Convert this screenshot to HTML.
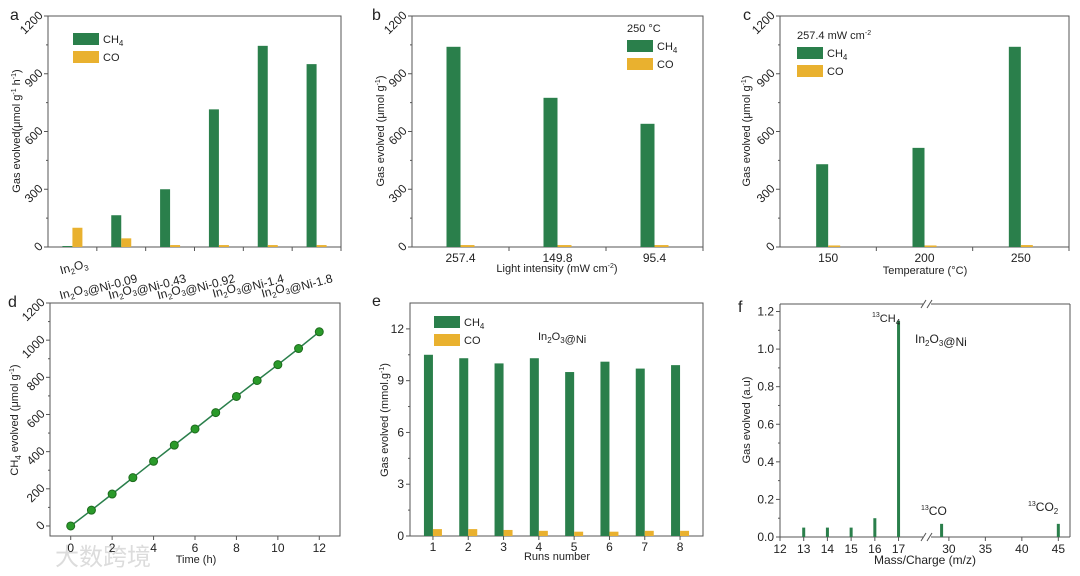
<!DOCTYPE html>
<html><head><meta charset="utf-8">
<style>
html,body{margin:0;padding:0;background:#fff;}
svg{display:block;font-family:"Liberation Sans",Arial,sans-serif;}
</style></head>
<body>
<svg id="fig" width="1080" height="576" viewBox="0 0 1080 576" xmlns="http://www.w3.org/2000/svg">
<text x="55" y="565" font-family="'Liberation Sans','Noto Sans CJK SC',sans-serif" font-size="24" fill="#dcdcdc">大数跨境</text>
</svg>
<script>
// ---- data ----
const catsA = ["In2O3","In2O3@Ni-0.09","In2O3@Ni-0.43","In2O3@Ni-0.92","In2O3@Ni-1.4","In2O3@Ni-1.8"];
const ch4A = [5,165,300,715,1045,950];
const coA = [100,45,10,10,10,10];
const catsB = ["257.4","149.8","95.4"];
const ch4B = [1040,775,640];
const coB = [10,10,10];
const catsC = ["150","200","250"];
const ch4C = [430,515,1040];
const coC = [8,8,10];
const timeD = [0,1,2,3,4,5,6,7,8,9,10,11,12];
const ch4D = [0,85,172,260,348,435,522,610,697,783,868,955,1045];
const runsE = [1,2,3,4,5,6,7,8];
const ch4E = [10.5,10.3,10.0,10.3,9.5,10.1,9.7,9.9];
const coE = [0.4,0.4,0.35,0.3,0.25,0.25,0.3,0.3];
const massF = [13,14,15,16,17,29,45];
const sigF = [0.05,0.05,0.05,0.1,1.15,0.07,0.07];
const ticks1200 = [0,300,600,900,1200];
const ticksD = [0,200,400,600,800,1000,1200];
const ticksDx = [0,2,4,6,8,10,12];
const ticksE = [0,3,6,9,12];
const ticksF = [0,0.2,0.4,0.6,0.8,1.0,1.2];
const ticksFx1 = [12,13,14,15,16,17];
const ticksFx2 = [30,35,40,45];

const G="#2a7f4b", O="#e9b12f", AX="#555", TX="#222";
const svg=document.getElementById('fig');
const NS="http://www.w3.org/2000/svg";
function mk(tag,at,parent){const e=document.createElementNS(NS,tag);for(const k in at)e.setAttribute(k,at[k]);(parent||svg).appendChild(e);return e;}
function txt(x,y,s,opt,parent){const e=mk('text',Object.assign({x:x,y:y,'font-size':11,fill:TX},opt||{}),parent);e.innerHTML=s;return e;}
function frame(L,T,R,B,name){const r=mk('rect',{x:L,y:T,width:R-L,height:B-T,fill:'none',stroke:AX,'stroke-width':1});}
function sub(s){return s.replace(/In2O3/g,'In<tspan font-size="8" dy="3">2</tspan><tspan dy="-3">O</tspan><tspan font-size="8" dy="3">3</tspan><tspan dy="-3"></tspan>');}
const CH4='CH<tspan font-size="8" dy="3">4</tspan>';

function yAxis(L,T,B,min,max,ticks,fmt,rot,name){
  const y=v=>B-(v-min)/(max-min)*(B-T);
  ticks.forEach((v,i)=>{
    const l=mk('line',{x1:L-4,x2:L,y1:y(v),y2:y(v),stroke:AX});
    
    if(i<ticks.length-1){const m=(v+ticks[i+1])/2;mk('line',{x1:L-2,x2:L,y1:y(m),y2:y(m),stroke:AX});}
    const t=rot?txt(L-6,y(v)+4,fmt(v),{'text-anchor':'end','font-size':12,transform:`rotate(-45 ${L-10} ${y(v)})`}):txt(L-6,y(v)+4,fmt(v),{'text-anchor':'end','font-size':12});
    
  });
  return y;
}
function ytitle(x,cy,s,name){const t=txt(x,cy,s,{'text-anchor':'middle',transform:`rotate(-90 ${x} ${cy})`});}
function panelLabel(x,y,s){const t=txt(x,y,s,{'font-size':16});}
function legend(x,y,name,hdr){
  if(hdr){const h=txt(x,y-8,hdr,{});}
  const a=mk('rect',{x:x,y:y,width:26,height:12,fill:G});
  const b=mk('rect',{x:x,y:y+18,width:26,height:12,fill:O});
  const c=txt(x+30,y+10,CH4);
  const d=txt(x+30,y+28,'CO');
}
function barPanel(L,T,R,B,cats,g,o,bw,name,ymax,rotX){
  frame(L,T,R,B,name);
  const y=yAxis(L,T,B,0,ymax,ticks1200,v=>v,true,name);
  const step=(R-L)/cats.length;
  cats.forEach((c,i)=>{
    const cx=L+step*(i+0.5);
    mk('line',{x1:L+step*(i+1),x2:L+step*(i+1),y1:B,y2:B+4,stroke:AX});
    const r1=mk('rect',{x:cx-bw,y:y(g[i]),width:bw,height:B-y(g[i]),fill:G});
    
    const r2=mk('rect',{x:cx,y:y(o[i]),width:bw,height:B-y(o[i]),fill:O});
    
    let lab;
    if(rotX){const ax=cx+16, ay=B+(i===0?20:32);lab=txt(ax,ay,sub(c),{'text-anchor':'end','font-size':12,transform:`rotate(-15 ${ax} ${ay})`});}
    else lab=txt(cx,B+15,c,{'text-anchor':'middle','font-size':12});
    
  });
}
// a
barPanel(48,16,341,247,catsA,ch4A,coA,10,'panel-a',1200,true);
panelLabel(10,20,'a');ytitle(20,131,'Gas evolved(μmol g<tspan font-size="7" dy="-4">-1</tspan><tspan dy="4"> h</tspan><tspan font-size="7" dy="-4">-1</tspan><tspan dy="4">)</tspan>','panel-a');
legend(73,33,'panel-a');
// b
barPanel(412,16,703,247,catsB,ch4B,coB,14,'panel-b',1200,false);
panelLabel(372,20,'b');ytitle(384,131,'Gas evolved (μmol g<tspan font-size="7" dy="-4">-1</tspan><tspan dy="4">)</tspan>','panel-b');
legend(627,40,'panel-b','250 °C');
{const t=txt(557,272,'Light intensity (mW cm<tspan font-size="7" dy="-4">-2</tspan><tspan dy="4">)</tspan>',{'text-anchor':'middle'});}
// c
barPanel(780,16,1069,247,catsC,ch4C,coC,12,'panel-c',1200,false);
panelLabel(743,20,'c');ytitle(750,131,'Gas evolved (μmol g<tspan font-size="7" dy="-4">-1</tspan><tspan dy="4">)</tspan>','panel-c');
legend(797,47,'panel-c','257.4 mW cm<tspan font-size="7" dy="-4">-2</tspan>');
{const t=txt(925,274,'Temperature (°C)',{'text-anchor':'middle'});}
// d
{
  const L=50,T=303,R=340,B=536;frame(L,T,R,B,'panel-d');
  const y=yAxis(L,T,B,-54,1200,ticksD,v=>v,true,'panel-d');
  const x=v=>L+(v+1)/14*(R-L);
  ticksDx.forEach(v=>{mk('line',{x1:x(v),x2:x(v),y1:B,y2:B+4,stroke:AX});const t=txt(x(v),B+16,v,{'text-anchor':'middle','font-size':12});});
  const p=mk('polyline',{points:timeD.map((t,i)=>x(t)+','+y(ch4D[i])).join(' '),fill:'none',stroke:G,'stroke-width':1.5});
  
  timeD.forEach((t,i)=>{const c=mk('circle',{cx:x(t),cy:y(ch4D[i]),r:4,fill:'#2a9a2a',stroke:'#1d6b1d'});});
  panelLabel(8,307,'d');ytitle(18,420,CH4+'<tspan dy="-3"> evolved (μmol g</tspan><tspan font-size="7" dy="-4">-1</tspan><tspan dy="4">)</tspan>','panel-d');
  const t=txt(196,563,'Time (h)',{'text-anchor':'middle'});
}
// e
{
  const L=410,T=303,R=703,B=536;frame(L,T,R,B,'panel-e');
  const y=yAxis(L,T,B,0,13.5,ticksE,v=>v,false,'panel-e');
  const x=v=>L+(v-0.35)/8.3*(R-L);
  runsE.forEach((r,i)=>{
    mk('line',{x1:x(r),x2:x(r),y1:B,y2:B+4,stroke:AX});
    const a=mk('rect',{x:x(r)-9,y:y(ch4E[i]),width:9,height:B-y(ch4E[i]),fill:G});
    const b=mk('rect',{x:x(r),y:y(coE[i]),width:9,height:B-y(coE[i]),fill:O});
    const t=txt(x(r),B+15,r,{'text-anchor':'middle','font-size':12});
  });
  panelLabel(372,306,'e');ytitle(388,420,'Gas evolved (mmol.g<tspan font-size="7" dy="-4">-1</tspan><tspan dy="4">)</tspan>','panel-e');
  legend(434,316,'panel-e');
  const n=txt(538,340,sub('In2O3@Ni'));
  const t=txt(557,560,'Runs number',{'text-anchor':'middle'});
}
// f
{
  const L=780,T=304,R=1070,B=537,BK=927;
  mk('line',{x1:L,x2:R,y1:B,y2:B,stroke:AX});mk('line',{x1:L,x2:R,y1:T,y2:T,stroke:AX});
  mk('line',{x1:L,x2:L,y1:T,y2:B,stroke:AX});mk('line',{x1:R,x2:R,y1:T,y2:B,stroke:AX});
  [B,T].forEach(yy=>{mk('rect',{x:BK-4,y:yy-4,width:8,height:8,fill:'#fff'});mk('line',{x1:BK-6,x2:BK-1,y1:yy+4,y2:yy-4,stroke:AX});mk('line',{x1:BK,x2:BK+5,y1:yy+4,y2:yy-4,stroke:AX});});
  const y=yAxis(L,T,B,0,1.24,ticksF,v=>v.toFixed(1),false,'panel-f');
  const x=v=>v<=20?L+(v-12)/6.2*(BK-L):BK+(v-27)/19.6*(R-BK);
  ticksFx1.concat(ticksFx2).forEach(v=>{mk('line',{x1:x(v),x2:x(v),y1:B,y2:B+4,stroke:AX});const t=txt(x(v),B+16,v,{'text-anchor':'middle','font-size':12});});
  massF.forEach((m,i)=>{const r=mk('rect',{x:x(m)-1.5,y:y(sigF[i]),width:3,height:B-y(sigF[i]),fill:G});});
  panelLabel(738,312,'f');ytitle(750,420,'Gas evolved (a.u)','panel-f');
  const a1=txt(872,322,'<tspan font-size="7" dy="-5">13</tspan><tspan dy="5">CH</tspan><tspan font-size="8" dy="3">4</tspan>');
  const a2=txt(915,343,sub('In2O3@Ni'),{'font-size':12});
  const a3=txt(921,515,'<tspan font-size="7" dy="-5">13</tspan><tspan dy="5">CO</tspan>',{'font-size':12});
  const a4=txt(1028,511,'<tspan font-size="7" dy="-5">13</tspan><tspan dy="5">CO</tspan><tspan font-size="8" dy="3">2</tspan>',{'font-size':12});
  const t=txt(925,564,'Mass/Charge (m/z)',{'text-anchor':'middle','font-size':12});
}
</script>
</body></html>
